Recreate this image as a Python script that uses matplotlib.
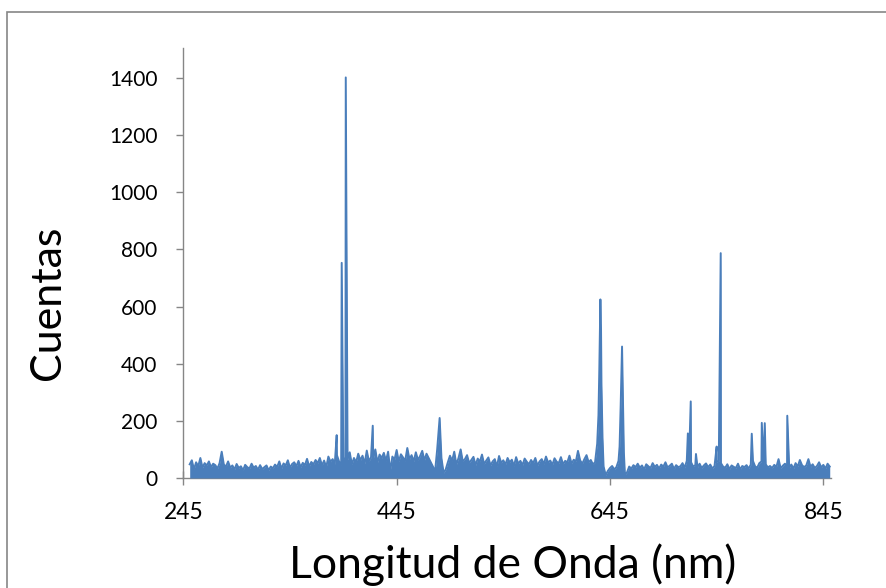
import numpy as np
import matplotlib
matplotlib.use('Agg')
import matplotlib.pyplot as plt
from matplotlib.patches import Rectangle

# background of the spectrum, one reading every 2 nm from 251 to 851 nm
bg_first, bg_step = 251, 2
bg_counts = [
    48, 62, 30, 55, 41, 70, 36, 52, 44, 58,
    38, 50, 45, 33, 52, 92, 47, 40, 58, 36,
    44, 30, 49, 35, 41, 27, 46, 38, 33, 50,
    36, 42, 29, 45, 31, 38, 44, 27, 40, 34,
    47, 39, 58, 33, 51, 44, 62, 36, 49, 55,
    41, 60, 38, 53, 45, 67, 40, 56, 48, 63,
    52, 70, 44, 61, 38, 75, 57, 66, 49, 80,
    58, 45, 72, 52, 64, 90, 48, 70, 55, 85,
    62, 78, 50, 96, 58, 73, 66, 100, 54, 82,
    70, 88, 60, 92, 25, 75, 64, 98, 57, 83,
    72, 60, 105, 66, 80, 58, 90, 63, 77, 95,
    62, 85, 70, 55, 40, 22, 100, 200, 70, 18,
    30, 55, 78, 60, 92, 47, 70, 100, 58, 66,
    80, 52, 63, 74, 45, 68, 57, 82, 49, 61,
    72, 44, 58, 66, 40, 77, 53, 62, 47, 70,
    55, 64, 42, 73, 50, 60, 45, 68, 57, 48,
    63, 52, 70, 44, 58, 66, 49, 75, 54, 61,
    46, 69, 57, 52, 73, 48, 60, 55, 78, 50,
    64, 58, 95, 62, 50, 66, 80, 55, 63, 48,
    55, 120, 380, 330, 40, 10, 25, 35, 42, 30,
    38, 60, 250, 300, 12, 20, 40, 33, 45, 38,
    50, 36, 44, 30, 48, 41, 35, 52, 39, 46,
    33, 47, 40, 55, 37, 43, 50, 32, 45, 38,
    41, 52, 36, 60, 48, 55, 40, 45, 38, 50,
    35, 44, 51, 38, 47, 33, 42, 56, 60, 52,
    40, 36, 48, 31, 44, 39, 35, 50, 30, 42,
    38, 45, 33, 47, 60, 41, 36, 52, 58, 44,
    48, 37, 42, 35, 46, 39, 66, 34, 43, 50,
    41, 36, 47, 33, 52, 40, 63, 45, 38, 44,
    66, 39, 48, 35, 42, 55, 37, 46, 33, 50,
    40,
]

# emission lines (nm, counts)
peak_wl = [388.8, 393.5, 397.3, 422.6,
           484.0, 485.3, 486.0,
           634.2, 636.0, 636.6, 638.0,
           654.0, 656.3, 658.0,
           718.0, 720.7, 725.6, 745.0, 748.8,
           777.9, 787.3, 790.1, 811.2]
peak_counts = [150, 753, 1402, 183,
               150, 210, 150,
               220, 625, 520, 140,
               110, 460, 90,
               156, 268, 84, 110, 787,
               155, 193, 192, 218]

x_ticks = [245, 445, 645, 845]
y_ticks = [0, 200, 400, 600, 800, 1000, 1200, 1400]

blue = '#4a7ebb'
grey = '#868686'

plt.rcParams['font.family'] = ['Lato', 'DejaVu Sans']

bg_wl = bg_first + bg_step * np.arange(len(bg_counts))
wl = np.concatenate([bg_wl, peak_wl])
counts = np.concatenate([bg_counts, peak_counts])
order = np.argsort(wl)
wl, counts = wl[order], counts[order]

fig = plt.figure(figsize=(8.86, 5.88), dpi=100)
ax = fig.add_axes([183.3 / 886, 110 / 588, 647.5 / 886, 430 / 588])

ax.fill_between(wl, 0, counts, color=blue, lw=0, zorder=3)
ax.plot(wl, counts, color=blue, lw=1.4, zorder=3)

ax.set_xlim(245, 852)
ax.set_ylim(0, 1505)
ax.set_xticks(x_ticks)
ax.set_yticks(y_ticks)

for s in ['top', 'right']:
    ax.spines[s].set_visible(False)
for s in ['left', 'bottom']:
    ax.spines[s].set_color(grey)
    ax.spines[s].set_linewidth(1.0)

ax.tick_params(axis='x', direction='inout', length=10.5, width=1.0, color=grey,
               labelsize=16.5, pad=12)
ax.tick_params(axis='y', direction='out', length=5, width=1.0, color=grey,
               labelsize=15, pad=13.5)

fig.text(513 / 886, 10 / 588, 'Longitud de Onda (nm)', fontsize=32,
         ha='center', va='baseline')
fig.text(48 / 886, 285 / 588, 'Cuentas', fontsize=31, rotation=90,
         ha='center', va='center')

# chart border (cut off on the right and bottom like the original)
fig.patches.append(Rectangle((7 / 886, -0.1), 1.0, 0.1 + 576 / 588,
                             transform=fig.transFigure, fill=False,
                             edgecolor=grey, lw=1.2))

fig.savefig('out.png', dpi=100)
